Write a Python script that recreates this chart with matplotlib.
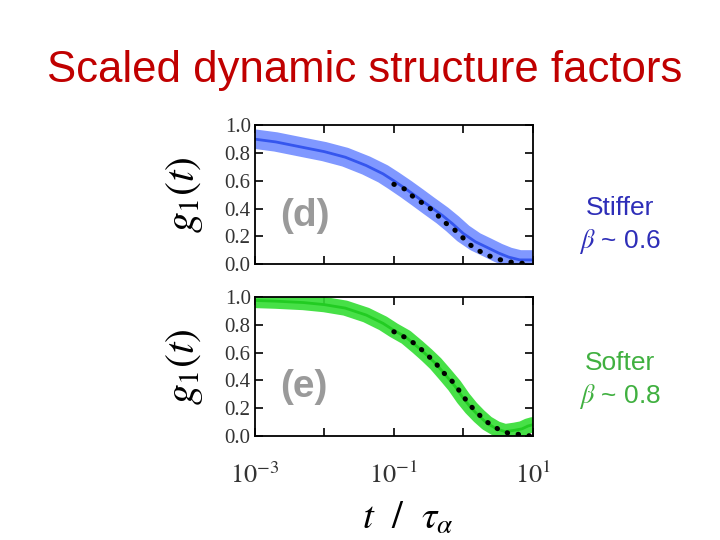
import numpy as np
import matplotlib
matplotlib.use("Agg")
import matplotlib.pyplot as plt
from matplotlib.ticker import FixedLocator, LogLocator, FuncFormatter, NullFormatter

plt.rcParams['font.family'] = ['Liberation Serif', 'DejaVu Serif']
plt.rcParams['mathtext.fontset'] = 'stix'

# panel (d): stiffer
t_blue = [1e-3, 2e-3, 5e-3, 1e-2, 2e-2, 4e-2, 7e-2, 0.1, 0.15, 0.22, 0.32, 0.5,
          0.7, 1.0, 1.5, 2.2, 3.2, 4.5, 6.5, 10]
g_blue = [0.90, 0.88, 0.84, 0.81, 0.77, 0.71, 0.65, 0.60, 0.54, 0.48, 0.42, 0.35,
          0.29, 0.22, 0.16, 0.12, 0.08, 0.05, 0.03, 0.03]
t_fit_d = [0.1, 0.144, 0.205, 0.279, 0.389, 0.507, 0.70, 0.92, 1.2, 1.62, 2.18,
           3.13, 4.37, 6.3, 9.05]
g_fit_d = [0.575, 0.54, 0.47, 0.43, 0.375, 0.31, 0.26, 0.205, 0.145, 0.10,
           0.065, 0.036, 0.017, 0.007, 0.003]

# panel (e): softer
t_green = [1e-3, 2e-3, 5e-3, 1e-2, 2e-2, 4e-2, 7e-2, 0.1, 0.15, 0.22, 0.3, 0.4,
           0.55, 0.75, 1.0, 1.3, 1.7, 2.2, 3.0, 4.0, 5.5, 7.0, 8.5, 10]
g_green = [0.975, 0.97, 0.96, 0.945, 0.92, 0.87, 0.81, 0.76, 0.71, 0.64, 0.58, 0.52,
           0.44, 0.36, 0.27, 0.20, 0.14, 0.09, 0.05, 0.03, 0.04, 0.05, 0.07, 0.08]
t_fit_e = [0.1, 0.144, 0.205, 0.279, 0.389, 0.507, 0.70, 0.92, 1.2, 1.62, 2.18,
           3.13, 4.37, 6.3, 9.05]
g_fit_e = [0.75, 0.71, 0.66, 0.60, 0.53, 0.46, 0.39, 0.31, 0.23, 0.16, 0.10,
           0.05, 0.02, 0.01, 0.0]

y_ticks = [0.0, 0.2, 0.4, 0.6, 0.8, 1.0]
x_major = [1e-3, 1e-2, 1e-1, 1e0, 1e1]
x_labeled = [1e-3, 1e-1, 1e1]

fig = plt.figure(figsize=(7.2, 5.4), dpi=100)

fig.text(0.506, 0.848, "Scaled dynamic structure factors", ha='center', va='baseline',
         fontsize=31.5, color='#c00000', family=['Liberation Sans', 'DejaVu Sans'])


def style_axes(ax, show_xlabels):
    ax.set_xscale('log')
    ax.set_xlim(1e-3, 1e1)
    ax.set_ylim(0, 1.0)
    ax.set_yticks(y_ticks)
    ax.set_yticklabels(["%.1f" % v for v in y_ticks])
    ax.xaxis.set_major_locator(FixedLocator(x_major))
    ax.xaxis.set_minor_locator(LogLocator(base=10, subs=np.arange(2, 10)))
    ax.xaxis.set_minor_formatter(NullFormatter())
    if show_xlabels:
        ax.xaxis.set_major_formatter(FuncFormatter(
            lambda v, p: r'$10^{%d}$' % round(np.log10(v)) if v in x_labeled else ''))
    else:
        ax.xaxis.set_major_formatter(NullFormatter())
    ax.tick_params(which='both', direction='in', top=True, right=True, width=1.2)
    ax.tick_params(which='major', length=6)
    ax.tick_params(which='minor', length=3)
    ax.tick_params(axis='y', labelsize=15, pad=3, labelcolor='#333333')
    ax.tick_params(axis='x', labelsize=19, pad=19, labelcolor='#333333')
    for s in ax.spines.values():
        s.set_linewidth(1.3)
    ax.set_ylabel(r'$g_1(t)$', fontsize=30, labelpad=14)


ax1 = fig.add_axes([0.354, 0.511, 0.386, 0.257])
ax1.plot(t_blue, g_blue, color='#6a86ff', lw=14, alpha=0.85, solid_capstyle='round')
ax1.plot(t_blue, g_blue, color='#3556ee', lw=2)
ax1.plot(t_fit_d, g_fit_d, color='black', lw=3.6, linestyle=(0, (0.1, 2.1)),
         dash_capstyle='round')
ax1.text(0.09, 0.345, "(d)", transform=ax1.transAxes, fontsize=28, fontweight='bold',
         color='#9a9a9a', va='center', family=['Liberation Sans', 'DejaVu Sans'])
style_axes(ax1, False)

ax2 = fig.add_axes([0.354, 0.193, 0.386, 0.257])
ax2.plot(t_green, g_green, color='#33dd33', lw=11, alpha=0.9, solid_capstyle='round')
ax2.plot(t_green, g_green, color='#22cc22', lw=2)
ax2.plot(t_fit_e, g_fit_e, color='black', lw=3.6, linestyle=(0, (0.1, 2.1)),
         dash_capstyle='round')
ax2.text(0.09, 0.35, "(e)", transform=ax2.transAxes, fontsize=28, fontweight='bold',
         color='#9a9a9a', va='center', family=['Liberation Sans', 'DejaVu Sans'])
style_axes(ax2, True)
ax2.set_xlabel(r'$t\ \ /\ \ \tau_{\alpha}$', fontsize=28, labelpad=12)
ax2.xaxis.set_label_coords(0.55, -0.47)

sans = ['Liberation Sans', 'DejaVu Sans']
fig.text(0.861, 0.615, "Stiffer", ha='center', va='center', fontsize=19,
         color='#2e2eb8', family=sans)
fig.text(0.861, 0.552, r"$\beta$ ~ 0.6", ha='center', va='center', fontsize=19,
         color='#2e2eb8', family=sans)
fig.text(0.861, 0.328, "Softer", ha='center', va='center', fontsize=19,
         color='#40b040', family=sans)
fig.text(0.861, 0.265, r"$\beta$ ~ 0.8", ha='center', va='center', fontsize=19,
         color='#40b040', family=sans)

fig.savefig("out.png", dpi=100)
